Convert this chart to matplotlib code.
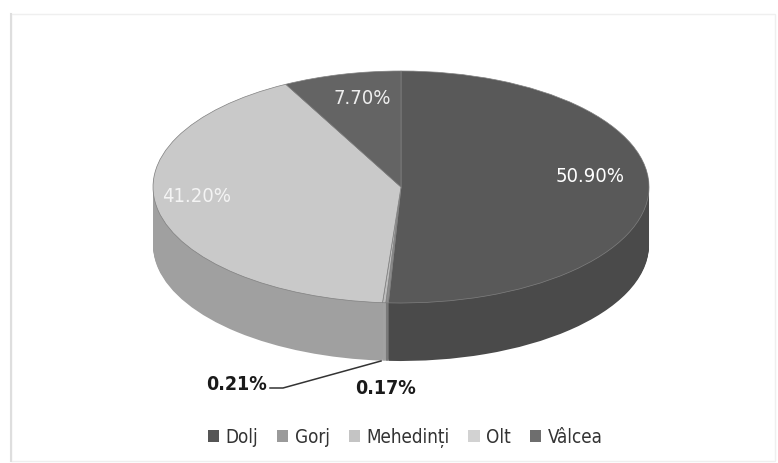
import matplotlib
matplotlib.use("Agg")
import matplotlib.pyplot as plt
from matplotlib.transforms import Affine2D
from matplotlib.patches import Rectangle, Patch

categories = ["Dolj", "Gorj", "Mehedinți", "Olt", "Vâlcea"]
values = [50.90, 0.17, 0.21, 41.20, 7.70]
pct_labels = ["50.90%", "0.17%", "0.21%", "41.20%", "7.70%"]

top_colors = ["#595959", "#8e8e8e", "#bdbdbd", "#c9c9c9", "#646464"]
side_colors = ["#4a4a4a", "#7a7a7a", "#a2a2a2", "#a0a0a0", "#555555"]
legend_colors = ["#555555", "#9a9a9a", "#c4c4c4", "#d2d2d2", "#6e6e6e"]

plt.rcParams["font.family"] = ["DejaVu Sans"]
plt.rcParams["font.stretch"] = "condensed"

W, H = 778, 463
fig = plt.figure(figsize=(W / 100, H / 100), dpi=100)
ax = fig.add_axes([0, 0, 1, 1])

CX, CY, RX, RY, DEPTH = 401, 187, 248, 116, 58

# side (extrusion) layers
for d in range(DEPTH, 0, -1):
    wedges, _ = ax.pie(values, startangle=90, counterclock=False, colors=side_colors,
                       wedgeprops=dict(linewidth=0, antialiased=True))
    tr = Affine2D().scale(RX, -RY).translate(CX, CY + d) + ax.transData
    for w in wedges:
        w.set_transform(tr)

# top face
wedges, _ = ax.pie(values, startangle=90, counterclock=False, colors=top_colors,
                   wedgeprops=dict(linewidth=0.5, edgecolor="#808080"))
tr = Affine2D().scale(RX, -RY).translate(CX, CY) + ax.transData
for w in wedges:
    w.set_transform(tr)

ax.set_aspect("auto")
ax.set_xlim(0, W)
ax.set_ylim(H, 0)
ax.axis("off")

# frame
ax.add_patch(Rectangle((11, 14), 764, 447, fill=False, edgecolor="#efefef", linewidth=1.0))
ax.plot([11, 11], [14, 461], color="#dedede", linewidth=1.5)

# value labels
fs = 14.5
ax.text(590, 177, pct_labels[0], color="white", fontsize=fs, ha="center", va="center")
ax.text(197, 196, pct_labels[3], color="#f4f4f4", fontsize=fs, ha="center", va="center")
ax.text(362, 99, pct_labels[4], color="#eeeeee", fontsize=fs, ha="center", va="center")
ax.text(237, 384, pct_labels[2], color="#1a1a1a", fontsize=14, fontweight="bold",
        ha="center", va="center")
ax.text(386, 388, pct_labels[1], color="#1a1a1a", fontsize=14, fontweight="bold",
        ha="center", va="center")
ax.plot([270, 283, 381], [388, 388, 361], color="#333333", linewidth=1.1)

# legend
handles = [Patch(facecolor=c, edgecolor="none") for c in legend_colors]
fig.legend(handles, categories, loc="center", bbox_to_anchor=(405 / W, 1 - 438 / H),
           ncol=5, frameon=False, fontsize=13.5, handlelength=0.6, handleheight=0.6,
           handletextpad=0.35, columnspacing=1.0, labelcolor="#333333")

fig.savefig("out.png", dpi=100)
